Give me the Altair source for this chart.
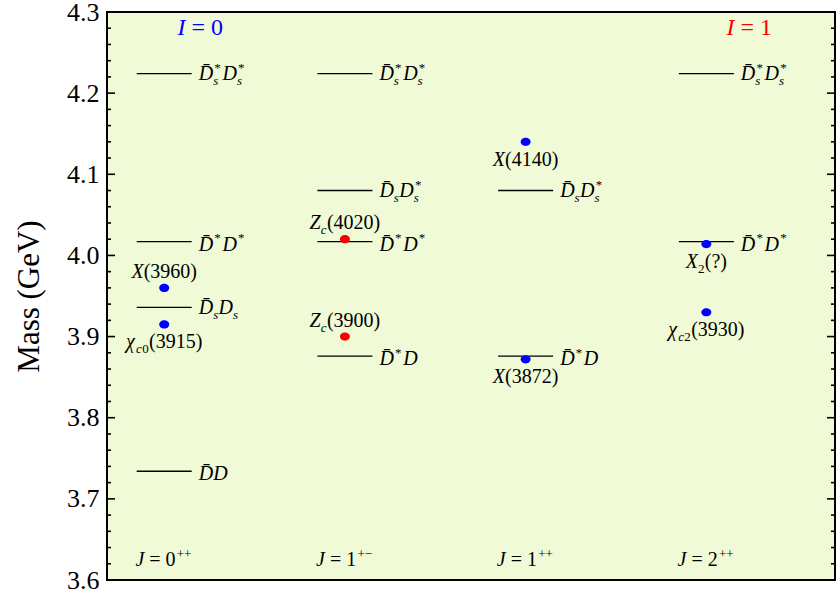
import altair as alt
import pandas as pd

FONT = "Liberation Serif"

# ---- axis ranges and plot size ------------------------------------------
Y_MIN, Y_MAX = 3.6, 4.3
X_MIN, X_MAX = -0.3166, 3.712
PLOT_W, PLOT_H = 728, 568
DX = (X_MAX - X_MIN) / PLOT_W          # data units per pixel (x)
DY = (Y_MAX - Y_MIN) / PLOT_H          # data units per pixel (y)
HALF_PX = 27.5                         # half length of a threshold line

# ---- J^PC of each column ------------------------------------------------
column_j = ["0", "1", "1", "2"]
column_pc = ["++", "+\u2212", "++", "++"]

# ---- open-charm two-meson thresholds (GeV) -------------------------------
threshold_column = [0, 0, 0, 0, 1, 1, 1, 1, 2, 2, 3, 3]
threshold_mass = [4.224, 4.017, 3.936, 3.734,
                  4.224, 4.080, 4.017, 3.876,
                  4.080, 3.876,
                  4.224, 4.017]
threshold_name = ["DsstDsst", "DstDst", "DsDs", "DD",
                  "DsstDsst", "DsDsst", "DstDst", "DstD",
                  "DsDsst", "DstD",
                  "DsstDsst", "DstDst"]

# ---- observed states (GeV) -------------------------------------------------
state_column = [0, 0, 1, 1, 2, 2, 3, 3]
state_mass = [3.960, 3.915, 4.020, 3.900, 4.140, 3.872, 4.014, 3.930]
state_name = ["X3960", "chic0", "Zc4020", "Zc3900", "X4140", "X3872", "X2", "chic2"]
state_isospin = [0, 0, 1, 1, 0, 0, 0, 0]
state_label_above = [True, False, True, True, False, False, False, False]

# ---- isospin headers -------------------------------------------------------
isospin_value = ["0", "1"]
isospin_column = [0, 3]
isospin_shift_px = [36, 43]
isospin_color = {0: "#0000ff", 1: "#ff0000"}

# ---- frame ticks -----------------------------------------------------------
tick_major = [3.6, 3.7, 3.8, 3.9, 4.0, 4.1, 4.2, 4.3]
tick_minor = [round(Y_MIN + 0.02 * i, 2) for i in range(36)]
tick_minor = [t for t in tick_minor if round(t * 10, 6) != round(t * 10)]

# ---- typesetting of the labels --------------------------------------------
BAR_D = "D\u0304"
TYPESET = {
    "DsstDsst": [("it", BAR_D), ("stack", ("*", "s")), ("it", "D"), ("stack", ("*", "s"))],
    "DstDst": [("it", BAR_D), ("sup", "*"), ("it", "D"), ("sup", "*")],
    "DsDs": [("it", BAR_D), ("subi", "s"), ("it", "D"), ("subi", "s")],
    "DD": [("it", BAR_D), ("it", "D")],
    "DsDsst": [("it", BAR_D), ("subi", "s"), ("it", "D"), ("stack", ("*", "s"))],
    "DstD": [("it", BAR_D), ("sup", "*"), ("it", "D")],
    "X3960": [("it", "X"), ("rm", "(3960)")],
    "chic0": [("it", "\u03c7"), ("subi", "c"), ("subr", "0"), ("rm", "(3915)")],
    "Zc4020": [("it", "Z"), ("subi", "c"), ("rm", "(4020)")],
    "Zc3900": [("it", "Z"), ("subi", "c"), ("rm", "(3900)")],
    "X4140": [("it", "X"), ("rm", "(4140)")],
    "X3872": [("it", "X"), ("rm", "(3872)")],
    "X2": [("it", "X"), ("subr", "2"), ("rm", "(?)")],
    "chic2": [("it", "\u03c7"), ("subi", "c"), ("subr", "2"), ("rm", "(3930)")],
}

ROMAN_W = {" ": 0.25, "=": 0.564, "(": 0.333, ")": 0.333, "?": 0.444,
           "+": 0.564, "\u2212": 0.564, "*": 0.5, ".": 0.25}
ITALIC_W = {"I": 0.333, "J": 0.444, "X": 0.611, "Z": 0.556, "D": 0.722,
            "s": 0.389, "c": 0.444, "\u03c7": 0.5, "\u0304": 0.0}


def text_width(text, italic, size):
    table = ITALIC_W if italic else ROMAN_W
    return size * sum(0.5 if ch.isdigit() else table.get(ch, 0.5) for ch in text)


def typeset(runs, size):
    """Split a label into pieces: (dx px, dy px, text, font size, italic)."""
    small = round(size * 0.66)
    pieces, pos = [], 0.0
    for kind, text in runs:
        if kind in ("it", "rm"):
            italic = kind == "it"
            # SVG drops leading blanks, so advance over them instead
            lead = len(text) - len(text.lstrip(" "))
            pos += lead * 0.25 * size
            body = text.lstrip(" ")
            pieces.append((pos, 0.0, body, size, italic))
            pos += text_width(body, italic, size)
        elif kind == "sup":
            pos += 0.06 * size
            pieces.append((pos, -0.42 * size, text, small, False))
            pos += text_width(text, False, small) + 0.08 * size
        elif kind in ("subi", "subr"):
            italic = kind == "subi"
            pieces.append((pos, 0.25 * size, text, small, italic))
            pos += text_width(text, italic, small) + 0.02 * size
        elif kind == "stack":
            sup, sub = text
            pieces.append((pos + 0.06 * size, -0.40 * size, sup, small, False))
            pieces.append((pos, 0.25 * size, sub, small, True))
            pos += max(text_width(sup, False, small) + 0.06 * size,
                       text_width(sub, True, small)) + 0.08 * size
    return pieces, pos


text_rows = []


def place(runs, x, y, size, color, centered):
    pieces, total = typeset(runs, size)
    start = -total / 2 if centered else 0.0
    for dx, dy, text, fsize, italic in pieces:
        text_rows.append({"x": x + (start + dx) * DX, "y": y - dy * DY,
                          "text": text, "size": fsize, "italic": italic,
                          "color": color})


# threshold names, right of each line
for col, mass, name in zip(threshold_column, threshold_mass, threshold_name):
    runs = TYPESET[name]
    has_sub = any(k in ("subi", "stack") for k, _ in runs)
    drop = 6.5 if has_sub else 9.0
    place(runs, col + (HALF_PX + 7) * DX, mass - drop * DY, 20, "black", False)

# state names, above or below each dot
for col, mass, name, above in zip(state_column, state_mass, state_name, state_label_above):
    y = mass + 10 * DY if above else mass - 24 * DY
    place(TYPESET[name], col, y, 20, "black", True)

# J^PC at the bottom of each column
for col, (j, pc) in enumerate(zip(column_j, column_pc)):
    place([("it", "J"), ("rm", " = " + j), ("sup", pc)], col, Y_MIN + 14 * DY, 20, "black", True)

# isospin headers
for val, col, shift in zip(isospin_value, isospin_column, isospin_shift_px):
    place([("it", "I"), ("rm", " = " + val)], col + shift * DX, Y_MAX - 22.5 * DY,
          24, isospin_color[int(val)], True)

texts = pd.DataFrame(text_rows)

thresholds = pd.DataFrame({
    "x": [c - HALF_PX * DX for c in threshold_column],
    "x2": [c + HALF_PX * DX for c in threshold_column],
    "y": threshold_mass,
})

states = pd.DataFrame({
    "x": state_column,
    "y": state_mass,
    "color": [isospin_color[i] for i in state_isospin],
})

major = pd.DataFrame({"y": tick_major})
minor = pd.DataFrame({"y": tick_minor})

# ---- encodings -------------------------------------------------------------
X_SCALE = alt.Scale(domain=[X_MIN, X_MAX], nice=False, zero=False)
Y_SCALE = alt.Scale(domain=[Y_MIN, Y_MAX], nice=False, zero=False)

Y_AXIS = alt.Axis(values=tick_major, format=".1f", ticks=False, domain=False, grid=False,
                  labelFont=FONT, labelFontSize=26, labelColor="black", labelPadding=8,
                  title="Mass (GeV)", titleFont=FONT, titleFontSize=31,
                  titleFontWeight="normal", titleColor="black", titlePadding=21)


def xe():
    return alt.X("x:Q", scale=X_SCALE, axis=None)


def ye():
    return alt.Y("y:Q", scale=Y_SCALE, axis=Y_AXIS)


lines = alt.Chart(thresholds).mark_rule(color="black", strokeWidth=1.3).encode(
    x=xe(), x2="x2:Q", y=ye())


def frame_ticks(df, length):
    left = alt.Chart(df).mark_rule(color="black", strokeWidth=1.6).encode(
        x=alt.value(0), x2=alt.value(length), y=ye())
    right = alt.Chart(df).mark_rule(color="black", strokeWidth=1.6).encode(
        x=alt.value(PLOT_W - length), x2=alt.value(PLOT_W), y=ye())
    return [left, right]


ELLIPSE = "M-1,0 A1,0.82 0 1,0 1,0 A1,0.82 0 1,0 -1,0 Z"
dots = alt.Chart(states).mark_point(filled=True, opacity=1, shape=ELLIPSE, size=100,
                                    strokeWidth=0).encode(
    x=xe(), y=ye(), color=alt.Color("color:N", scale=None))


def text_layer(italic):
    return alt.Chart(texts[texts["italic"] == italic]).mark_text(
        font=FONT, fontStyle="italic" if italic else "normal",
        align="left", baseline="alphabetic").encode(
        x=xe(), y=ye(), text="text:N",
        size=alt.Size("size:Q", scale=None),
        color=alt.Color("color:N", scale=None))


chart = alt.layer(
    lines,
    *frame_ticks(major, 8),
    *frame_ticks(minor, 4),
    dots,
    text_layer(True),
    text_layer(False),
).properties(
    width=PLOT_W, height=PLOT_H,
    padding={"left": 107, "top": 12, "right": 3, "bottom": 16},
    autosize=alt.AutoSizeParams(type="none"),
    background="white",
).configure_view(fill="#f0fad6", stroke="black", strokeWidth=2)

chart.save("out.html", embed_options={"renderer": "svg", "actions": False})
